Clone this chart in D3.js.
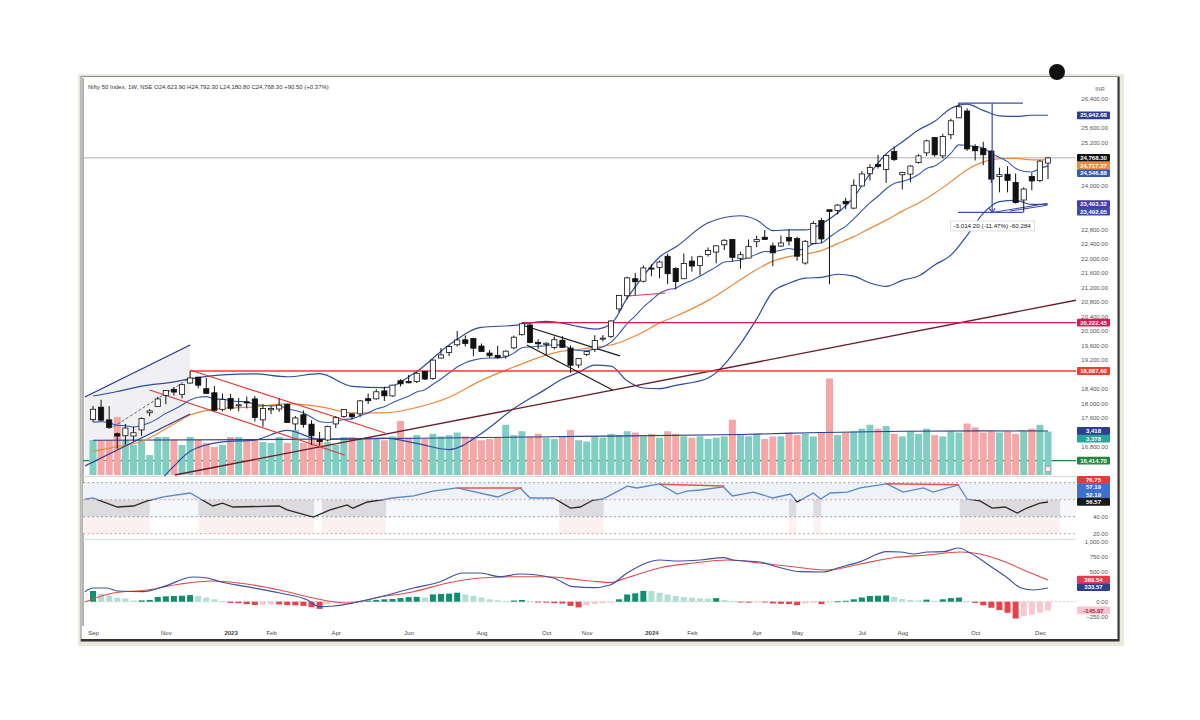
<!DOCTYPE html>
<html><head><meta charset="utf-8">
<script src="https://cdn.jsdelivr.net/npm/d3@7/dist/d3.min.js"></script>
<style>
html,body{margin:0;padding:0;background:#fff;}
svg{display:block;font-family:"Liberation Sans","DejaVu Sans",Arial,sans-serif;}
</style></head><body>
<svg id="chart" width="1200" height="720"></svg>
<script>
// ---------------- DATA ----------------
const firstWeek = "2022-09-05", lastWeek = "2024-12-09";
const opens = [17546,17890,17540,17157,17102,17094,17263,17737,17910,18211,
18377,18246,18556,18719,18402,18288,17830,18131,17953,18034,
18118,17541,17818,17840,17966,17428,17680,17422,16993,16984,
17428,17634,17706,17707,18124,18120,18339,18201,18619,18600,
18595,18874,18683,19246,19400,19612,19748,19784,19576,19383,
19320,19298,19526,19890,20156,19679,19622,19539,19737,19521,
19053,19345,19487,19784,19844,20601,20965,21434,21365,21727,
21747,22053,21716,21433,21921,21800,22103,22169,22371,22517,
21997,22004,22455,22579,22339,22336,22570,22542,21867,22405,
23038,23337,23319,23570,23382,23992,24330,24587,24445,24943,
24302,24320,24637,24906,25333,24823,25406,25872,26061,25084,
25024,24956,24251,24315,24087,23605,24253,24140,24624];
const highs = [17925,18096,17919,17188,17428,17348,17607,17838,18176,18362,
18443,18529,18888,18728,18697,18473,18265,18252,18141,18184,
18201,17972,17917,18134,17972,17645,17800,17529,17207,17381,
17639,17842,17707,18089,18267,18389,18458,18508,18662,18777,
18865,18886,19201,19523,19595,19991,19868,19796,19646,19465,
19584,19458,19867,20222,20195,19766,19680,19843,19849,19593,
19234,19451,19875,19876,20291,20970,21492,21593,21801,21834,
21928,22124,21750,22127,22053,22069,22297,22353,22525,22527,
22180,22516,22619,22775,22428,22626,22794,22588,22503,23026,
23110,23338,23490,23667,24174,24401,24592,24854,24861,25078,
24383,24563,24867,25269,25333,25433,25849,26277,26135,25143,
25212,24978,24498,24537,24336,23957,24354,24705,24792];
const lows = [17485,17497,17291,16748,16855,16950,17098,17637,17899,17969,
18209,18133,18535,18410,18255,17775,17775,17796,17774,17853,
17494,17353,17699,17761,17455,17255,17325,16850,16828,16940,
17313,17597,17553,17612,17980,18098,18060,18178,18464,18547,
18556,18647,18646,19230,19301,19562,19563,19296,19412,19253,
19229,19224,19490,19866,19657,19492,19333,19480,19518,18837,
18973,19301,19414,19704,19800,20507,20867,20977,21329,21500,
21448,21285,21137,21429,21629,21530,22045,21860,22224,21906,
21711,22004,22304,22503,21777,22305,22349,21932,21822,22405,
22417,21281,23206,23350,23350,23992,24141,24473,24074,24686,
23894,24099,24607,24819,24801,24753,25286,25872,24966,24694,
24567,24074,23816,23816,23509,23263,23873,24100,24181];
const closes = [17833,17531,17327,17094,17315,17186,17576,17787,18117,18350,
18307,18512,18696,18497,18269,17806,18105,17859,17956,18027,
17604,17854,17856,17944,17466,17594,17413,17100,16945,17360,
17600,17828,17624,18065,18069,18315,18203,18499,18534,18563,
18826,18665,19189,19332,19564,19745,19646,19517,19428,19310,
19265,19435,19820,20192,19674,19638,19654,19751,19542,19047,
19230,19425,19732,19795,20268,20970,21457,21349,21731,21711,
21895,21572,21353,21854,21783,22041,22213,22339,22494,22023,
22097,22327,22514,22519,22147,22420,22476,22055,22466,22957,
22531,23290,23465,23501,24011,24324,24502,24531,24835,24718,
24367,24541,24823,25236,24852,25357,25791,26179,25015,24964,
24854,24181,24304,24148,23533,23907,24131,24678,24768];
const volumes = [2720,2720,2720,4510,2720,2330,2720,1550,2950,2950,
2720,2330,2950,2720,2490,2180,2330,2950,2950,2720,
2720,2560,2490,2950,2490,3500,2490,2870,2720,2560,
2330,2950,2950,2720,2950,2800,2700,3000,4200,2900,
3100,2800,3200,3000,3100,3300,3000,2900,2700,2800,
2900,3900,3100,3400,3000,3200,2900,2800,3000,3500,
2700,2600,3000,2900,3200,3100,3400,3300,3000,3200,
2900,3400,3200,3000,2900,3000,2800,2900,3000,4300,
3100,3000,3200,2800,3000,3000,3300,3100,3200,3000,
3300,7500,3100,3300,3400,3600,3900,3600,3800,3200,
3000,3400,3200,3600,3100,3000,3400,3300,4000,3700,
3300,3400,3300,3400,3200,3400,3600,3900,3378];
const volMAIdx = [0,20,40,60,80,90,100,110,118];
const volMAVal = [2700,2750,2850,3000,3150,3300,3400,3430,3418];

// Bollinger bands (20,2) & basis, read at sample weeks
const bbIdx = [0,3,6,10,12,16,20,24,28,32,36,40,44,48,52,56,58,60,62,64,66,68,70,72,76,80,82,84,86,88,90,92,94,96,98,100,102,104,106,108,110,112,114,116,118];
const bbUpper = [18199,18322,18473,18588,18671,18784,18808,18729,18814,18463,18430,18875,19606,20091,20145,20255,20210,20114,20043,20188,20898,21508,22032,22307,22976,23171,23055,22763,22779,22779,22947,23245,23684,24329,24876,25206,25538,25775,26132,26253,26078,25928,25913,25943,25943];
const bbBasis = [16669,16802,16945,17426,17673,17858,17896,17989,17908,17735,17734,17883,18164,18629,18999,19325,19438,19482,19547,19606,19758,19964,20216,20399,20836,21405,21689,21919,22043,22115,22209,22401,22594,22823,23050,23298,23524,23795,24108,24441,24658,24744,24753,24713,24717];
const bbLower = [15139,15282,15417,16264,16675,16932,16984,17249,17002,17007,17038,16891,16722,17167,17853,18395,18666,18850,19051,19024,18618,18420,18400,18491,18696,19639,20323,21075,21307,21451,21471,21557,21504,21317,21224,21390,21510,21815,22084,22629,23238,23560,23593,23483,23492];
const emaLine = [17479,17488,17459,17393,17379,17344,17386,17459,17579,17719,
17826,17951,18087,18162,18181,18113,18112,18066,18046,18043,
17963,17943,17927,17930,17846,17800,17730,17615,17493,17469,
17493,17554,17567,17658,17733,17839,17905,18013,18108,18191,
18307,18372,18521,18669,18832,18998,19116,19189,19232,19246,
19249,19283,19381,19529,19555,19570,19585,19615,19602,19501,
19452,19447,19499,19553,19683,19917,20197,20407,20648,20841,
21033,21131,21171,21295,21384,21504,21633,21761,21894,21917,
21950,22019,22109,22184,22177,22221,22267,22228,22271,22396,
22421,22579,22740,22879,23085,23310,23527,23710,23915,24061,
24117,24194,24308,24477,24545,24693,24893,25127,25107,25081,
25040,24884,24778,24663,24480,24400,24380,24470,24547];

// RSI (read at sample weeks)
const rsiIdx = [-1,0,3,5,6.7,8.7,12,14.8,16,17.3,23,24,27.2,29.3,31.4,32.1,33.9,35.5,37,39.6,42,45,50,52.8,54,56.9,59,60.2,61.8,63,66,67.2,70,72.2,73.4,75,77.9,79,81.6,84,86.2,87,89,89.9,91.1,93.2,94.8,98.1,100.1,102.6,103.8,106.9,108,109.6,111.1,112.7,114.2,115.4,117,118];
const rsiVal = [60.8,62,51.4,52.6,58.5,63.2,67.9,52.6,56,51.4,52.6,48,39.6,48,53.8,50,57.3,59.6,62,64.4,70,73.8,63.2,73.8,62,62,50.2,51.4,59.6,60.8,76,73.8,78.5,66.7,70,71.4,75,64.4,69,62,66.7,57.3,67.9,60.8,67.9,69,73.8,78.5,69,73.8,69,77.3,60.8,58.5,50.2,51.4,44.4,50.2,56,57.3];
const rsiShadeRanges = [[-1.5,7],[13,27.3],[28.3,36.2],[57.6,63.1],[86,86.9],[89,90],[107.1,119.5]];
const rsiDivergences = [[45,73.8,53,73.8],[70,78.2,78,76.2],[98,78.7,107,77.6]];
const rsiLevels = [80,60,40,20];

// MACD
const macdIdx = [-1,0,1.7,3,6.2,8.7,12.4,14.1,15.7,19,23.1,26.5,28,29.7,32.1,35.5,39.6,42.9,45.7,47.8,50.3,52.8,56.9,59.3,61.8,63.9,66,70.1,72.2,75,77.9,79.1,82.4,84.5,87.4,90.2,92,94.8,98.1,99.8,101.4,103.1,105.1,106.9,108.4,111.2,113,114.6,116.2,118];
const macdVal = [167,228,228,178,167,250,412,395,333,250,145,28,-83,-72,-22,83,228,333,478,478,417,462,395,250,233,278,478,695,678,695,733,695,662,583,500,495,562,667,833,828,795,828,833,895,812,562,395,233,195,228];
const signalIdx = [-1,2.5,6.7,10.8,14.8,19,23.1,27.2,31.4,35.5,39.6,43.8,47.8,51.9,56.1,60.2,61.8,63.9,66,70.1,74.2,78.4,82.4,86.5,90.7,94.8,98.9,103.1,107.2,109.6,112.1,115.5,118];
const signalVal = [-5,145,195,295,345,295,195,62,-22,78,167,312,395,417,417,362,340,320,400,567,645,695,645,583,528,628,733,778,828,795,695,500,362];
const histVal = [178,133,94,67,56,20,22,30,78,90,
95,100,110,95,70,40,10,-20,-25,-40,
-55,-50,-45,-45,-55,-60,-70,-90,-120,-40,
-25,-15,-5,5,20,30,40,45,60,75,
80,70,122,130,135,150,120,95,70,40,
25,10,20,28,5,-5,-15,-25,-30,-70,
-95,-60,-40,-25,-15,40,120,140,180,178,
150,120,95,78,67,55,50,60,30,10,
-10,-15,-5,-10,-30,-35,-40,-55,-30,-20,
-40,-10,5,15,40,70,95,100,105,80,
45,30,20,35,15,40,60,70,5,-20,
-60,-100,-140,-185,-280,-240,-215,-185,-146];

// Axis ticks
const priceTicks = [16800,17200,17600,18000,18400,18800,19200,19600,20000,20400,20800,21200,21600,22000,22400,22800,23200,23600,24000,24400,24800,25200,25600,26000,26400];
const macdTicks = [-250,0,250,500,750,1000];
const monthTickDates = ["2022-09-05","2022-11-07","2023-01-02","2023-02-06","2023-04-03","2023-06-05","2023-08-07","2023-10-02","2023-11-06","2024-01-01","2024-02-05","2024-04-01","2024-05-06","2024-07-01","2024-08-05","2024-10-07","2024-12-02"];
const monthTickLabels = ["Sep","Nov","2023","Feb","Apr","Jun","Aug","Oct","Nov","2024","Feb","Apr","May","Jul","Aug","Oct","Dec"];

// Drawings (week index, price)
const trendLines = [
  {pts:[[-1,18171],[12,19606]], color:"#283593", w:1.3},
  {pts:[[-1,16268],[12,17702]], color:"#283593", w:1.3},
  {pts:[[12,18916],[36.1,17178]], color:"#e53935", w:1.2},
  {pts:[[7,18364],[31.1,16571]], color:"#e53935", w:1.2},
  {pts:[[53,20157],[65.1,19305]], color:"#1a1a1a", w:1.2},
  {pts:[[53.6,19606],[64.2,18364]], color:"#1a1a1a", w:1.2},
  {pts:[[66.1,20957],[70.7,21040]], color:"#e53935", w:1.2},
  {pts:[[111.2,23263],[117.9,23511]], color:"#3949ab", w:1},
  {pts:[[113.3,23300],[117.9,23460]], color:"#3949ab", w:1}
];
const channelFill = [[-1,18171],[12,19606],[12,17702],[-1,16268]];
const longTrend = [[10.1,16020],[118,20690]];
const horizontalLevels = [
  {price:18887.60, from:12, color:"#ef3b36"},
  {price:20222.45, from:53, color:"#d81b50"}
];
const dashedPath = [[2.5,17344],[12,18700]];
const lastPrice = 24768.30, greenLevel = 16414.70;
const measure = {top:26277.35, bottom:23263.15, from:106.9, to:114.9, at:111.1, label:"-3,014.20 (-11.47%) -60,284"};

const priceTags = [
  {v:25942.68, t:"25,942.68", bg:"#2e3f8f", fg:"#fff"},
  {v:24768.30, t:"24,768.30", bg:"#111", fg:"#fff"},
  {v:24717.37, t:"24,717.37", bg:"#f08a3c", fg:"#fff"},
  {v:24546.88, t:"24,546.88", bg:"#3458b5", fg:"#fff"},
  {v:23493.32, t:"23,493.32", bg:"#4a3aa8", fg:"#fff"},
  {v:23492.05, t:"23,492.05", bg:"#3f4bb0", fg:"#fff"},
  {v:20222.45, t:"20,222.45", bg:"#d81b50", fg:"#fff"},
  {v:18887.60, t:"18,887.60", bg:"#ef3b36", fg:"#fff"},
  {v:16414.70, t:"16,414.70", bg:"#1f8a3c", fg:"#fff"}
];
const volTags = [
  {v:3418, t:"3,418", bg:"#2e3f8f", fg:"#fff"},
  {v:3378, t:"3,378", bg:"#26a69a", fg:"#fff"}
];
const rsiTags = [
  {v:76.75, t:"76.75", bg:"#e53935", fg:"#fff"},
  {v:57.19, t:"57.19", bg:"#3d6fd0", fg:"#fff"},
  {v:52.19, t:"52.19", bg:"#3d6fd0", fg:"#fff"},
  {v:56.57, t:"56.57", bg:"#1a1a1a", fg:"#fff"}
];
const macdTags = [
  {v:369.54, t:"369.54", bg:"#e53950", fg:"#fff"},
  {v:333.57, t:"333.57", bg:"#2e3f8f", fg:"#fff"},
  {v:-145.97, t:"-145.97", bg:"#f7c5cf", fg:"#b0203a"}
];
const headerText = "Nifty 50 Index, 1W, NSE  O24,623.90 H24,792.30 L24,180.80 C24,768.30 +90.50 (+0.37%)";

// ---------------- RENDER ----------------
const svg = d3.select("#chart");
const parse = d3.timeParse("%Y-%m-%d");
const weeks = d3.timeMonday.range(parse(firstWeek), d3.timeDay.offset(parse(lastWeek), 1));
const xTime = d3.scaleTime().domain([weeks[0], weeks[weeks.length-1]]).range([93, 1048]);
const X = i => xTime(new Date(weeks[0].getTime() + i*7*864e5));
const PL = 83, PR = 1076;
const yP = d3.scaleLinear().domain([16800, 25600]).range([446.7, 127.7]);
const yV = d3.scaleLinear().domain([0, 3418]).range([475, 431]);
const yR = d3.scaleLinear().domain([20, 80]).range([533.7, 482.7]);
const yM = d3.scaleLinear().domain([-250, 1000]).range([616.7, 541.7]);

// frame
svg.append("rect").attr("x",78).attr("y",74).attr("width",1046).attr("height",572).attr("fill","#ebe8de");
svg.append("rect").attr("x",81).attr("y",76.5).attr("width",1038).attr("height",565).attr("fill","#fff").attr("stroke","#8a8a8a").attr("stroke-width",1);
svg.append("line").attr("x1",1118.5).attr("x2",1118.5).attr("y1",77).attr("y2",641).attr("stroke","#333").attr("stroke-width",2);
svg.append("line").attr("x1",81).attr("x2",1119).attr("y1",640).attr("y2",640).attr("stroke","#333").attr("stroke-width",2);
svg.append("line").attr("x1",PL).attr("x2",PL).attr("y1",78).attr("y2",626).attr("stroke","#666").attr("stroke-width",1);
svg.append("circle").attr("cx",1057).attr("cy",72).attr("r",8).attr("fill","#111");

const defs = svg.append("defs");
function clip(id,x,y,w,h){defs.append("clipPath").attr("id",id).append("rect").attr("x",x).attr("y",y).attr("width",w).attr("height",h);}
clip("cMain",PL,78,PR-PL,398);
clip("cRsi",PL,477,PR-PL,62);
clip("cRsiHi",PL,477,PR-PL,yR(60)-477);
clip("cRsiLo",PL,yR(60),PR-PL,540-yR(60));
clip("cMacd",PL,540,PR-PL,86);

// pane separators
[476.5, 539.5].forEach(y=>svg.append("line").attr("x1",PL).attr("x2",PR).attr("y1",y).attr("y2",y).attr("stroke","#dadada"));

const main = svg.append("g").attr("clip-path","url(#cMain)");
main.append("line").attr("x1",PL).attr("x2",PR).attr("y1",yP(lastPrice)).attr("y2",yP(lastPrice)).attr("stroke","#b0b0b0").attr("stroke-width",1);
main.append("line").attr("x1",PL).attr("x2",PR).attr("y1",yP(greenLevel)).attr("y2",yP(greenLevel)).attr("stroke","#1f8a3c").attr("stroke-width",1.4);

// channel fill
main.append("path").attr("d", d3.line().x(d=>X(d[0])).y(d=>yP(d[1]))(channelFill)+"Z").attr("fill","rgba(110,110,140,0.10)");

// volume
main.selectAll("rect.vol").data(volumes).join("rect").attr("class","vol")
  .attr("x",(d,i)=>X(i)-3.5).attr("width",7)
  .attr("y",d=>yV(d)).attr("height",d=>475-yV(d))
  .attr("fill",(d,i)=>closes[i]>=opens[i]?"#80cec2":"#f5a6a6");
main.append("path").datum(volMAIdx.map((d,k)=>[d,volMAVal[k]]))
  .attr("d",d3.line().x(d=>X(d[0])).y(d=>yV(d[1])).curve(d3.curveMonotoneX))
  .attr("fill","none").attr("stroke","#2e3f8f").attr("stroke-width",1.1);

// indicators
const lineP = d3.line().x(d=>X(d[0])).y(d=>yP(d[1])).curve(d3.curveMonotoneX);
function drawSeries(idx, vals, color, w){
  main.append("path").datum(idx.map((d,k)=>[d,vals[k]])).attr("d",lineP)
   .attr("fill","none").attr("stroke",color).attr("stroke-width",w);
}
drawSeries(bbIdx,bbUpper,"#2f4b9e",1.2);
drawSeries(bbIdx,bbLower,"#2f4b9e",1.2);
drawSeries(bbIdx,bbBasis,"#f0883a",1.2);
drawSeries(emaLine.map((d,i)=>i),emaLine,"#3458b5",1.1);

{
  const [a,b] = longTrend;
  const slope = (yP(b[1])-yP(a[1]))/(X(b[0])-X(a[0]));
  main.append("line").attr("x1",X(a[0])).attr("y1",yP(a[1])).attr("x2",PR).attr("y2",yP(a[1])+slope*(PR-X(a[0])))
    .attr("stroke","#6b1d2a").attr("stroke-width",1.4);
}
horizontalLevels.forEach(h=>main.append("line").attr("x1",X(h.from)).attr("x2",PR).attr("y1",yP(h.price)).attr("y2",yP(h.price)).attr("stroke",h.color).attr("stroke-width",1.3));
trendLines.forEach(t=>main.append("path").attr("d",d3.line().x(d=>X(d[0])).y(d=>yP(d[1]))(t.pts)).attr("stroke",t.color).attr("stroke-width",t.w).attr("fill","none"));
main.append("path").attr("d",d3.line().x(d=>X(d[0])).y(d=>yP(d[1]))(dashedPath)).attr("stroke","#555").attr("stroke-width",0.9).attr("stroke-dasharray","3,2").attr("fill","none");

// candles
const cg = main.append("g");
weeks.forEach((w,i)=>{
  const x = X(i), up = closes[i]>=opens[i];
  cg.append("line").attr("x1",x).attr("x2",x).attr("y1",yP(highs[i])).attr("y2",yP(lows[i])).attr("stroke","#111").attr("stroke-width",1);
  const top = yP(Math.max(opens[i],closes[i])), bot = yP(Math.min(opens[i],closes[i]));
  cg.append("rect").attr("x",x-2.6).attr("width",5.2).attr("y",top).attr("height",Math.max(1,bot-top))
    .attr("fill",up?"#fff":"#111").attr("stroke","#111").attr("stroke-width",0.8);
});

// measurement tool
{
  const mc="#3a4fa8";
  main.append("line").attr("x1",X(measure.from)).attr("x2",X(measure.to)).attr("y1",yP(measure.top)).attr("y2",yP(measure.top)).attr("stroke",mc).attr("stroke-width",1.2);
  main.append("line").attr("x1",X(measure.from)).attr("x2",X(measure.to)).attr("y1",yP(measure.bottom)).attr("y2",yP(measure.bottom)).attr("stroke",mc).attr("stroke-width",1.2);
  const xm = X(measure.at);
  main.append("line").attr("x1",xm).attr("x2",xm).attr("y1",yP(measure.top)).attr("y2",yP(measure.bottom)).attr("stroke",mc).attr("stroke-width",1.2);
  const yb = yP(measure.bottom);
  main.append("path").attr("d",`M${xm-3},${yb-4}L${xm},${yb}L${xm+3},${yb-4}`).attr("stroke",mc).attr("fill","none").attr("stroke-width",1.2);
  const lg = svg.append("g");
  const tx = svg.append("text").attr("x",xm).attr("y",yb+16).attr("text-anchor","middle").attr("font-size",6.2).attr("fill","#222").text(measure.label);
  const bb = tx.node().getBBox();
  lg.append("rect").attr("x",bb.x-3).attr("y",bb.y-1.5).attr("width",bb.width+6).attr("height",bb.height+3).attr("fill","#fff").attr("stroke","#ddd");
}
svg.append("circle").attr("cx",X(118)).attr("cy",469).attr("r",2.8).attr("fill","#fff").attr("stroke","#d87090").attr("stroke-width",0.8);

// ---------- RSI pane ----------
const rsi = svg.append("g").attr("clip-path","url(#cRsi)");
rsi.append("rect").attr("x",PL).attr("width",PR-PL).attr("y",yR(80)).attr("height",yR(60)-yR(80)).attr("fill","#edf1f8");
rsi.append("rect").attr("x",PL).attr("width",PR-PL).attr("y",yR(60)).attr("height",yR(40)-yR(60)).attr("fill","#f5f7fb");
rsiShadeRanges.forEach(r=>{
  rsi.append("rect").attr("x",X(r[0])).attr("width",X(r[1])-X(r[0])).attr("y",yR(60)).attr("height",yR(40)-yR(60)).attr("fill","#dcdcdf");
  rsi.append("rect").attr("x",X(r[0])).attr("width",X(r[1])-X(r[0])).attr("y",yR(40)).attr("height",yR(20)-yR(40)).attr("fill","#fcf0f0");
});
rsiLevels.forEach((l,k)=>rsi.append("line").attr("x1",PL).attr("x2",PR).attr("y1",yR(l)).attr("y2",yR(l))
  .attr("stroke",k%2? "#d99aa4":"#8f9aae").attr("stroke-dasharray","2,2.5").attr("stroke-width",1));
const rsiPts = rsiIdx.map((d,k)=>[d,rsiVal[k]]);
const rsiLine = d3.line().x(d=>X(d[0])).y(d=>yR(d[1]));
rsi.append("path").datum(rsiPts).attr("d",rsiLine).attr("clip-path","url(#cRsiHi)").attr("fill","none").attr("stroke","#5a86cc").attr("stroke-width",1.3);
rsi.append("path").datum(rsiPts).attr("d",rsiLine).attr("clip-path","url(#cRsiLo)").attr("fill","none").attr("stroke","#2a2a2a").attr("stroke-width",1.3);
rsiDivergences.forEach(d=>rsi.append("line").attr("x1",X(d[0])).attr("x2",X(d[2])).attr("y1",yR(d[1])).attr("y2",yR(d[3])).attr("stroke","#e2574c").attr("stroke-width",1.6));

// ---------- MACD pane ----------
const mac = svg.append("g").attr("clip-path","url(#cMacd)");
mac.append("line").attr("x1",PL).attr("x2",PR).attr("y1",yM(0)).attr("y2",yM(0)).attr("stroke","#c8c8c8").attr("stroke-dasharray","2,2");
mac.selectAll("rect.h").data(histVal).join("rect").attr("class","h")
  .attr("x",(d,i)=>X(i)-3).attr("width",6)
  .attr("y",d=>d>=0?yM(d):yM(0)).attr("height",d=>Math.max(0.8,Math.abs(yM(d)-yM(0))))
  .attr("fill",(d,i)=>{const p=i>0?histVal[i-1]:d; return d>=0?(d>=p?"#0f8f6e":"#b3ded6"):(d<=p?"#ea3f4c":"#f8c8ce");});
mac.append("path").datum(signalIdx.map((d,k)=>[d,signalVal[k]])).attr("d",d3.line().x(d=>X(d[0])).y(d=>yM(d[1])).curve(d3.curveMonotoneX))
  .attr("fill","none").attr("stroke","#e24a4a").attr("stroke-width",1.1);
mac.append("path").datum(macdIdx.map((d,k)=>[d,macdVal[k]])).attr("d",d3.line().x(d=>X(d[0])).y(d=>yM(d[1])).curve(d3.curveMonotoneX))
  .attr("fill","none").attr("stroke","#3b52a5").attr("stroke-width",1.2);

// ---------- tags & axes ----------
function placeTags(list, scale, minGap){
  const arr = list.map(d=>({...d, y:scale(d.v)})).sort((a,b)=>a.y-b.y);
  for(let k=1;k<arr.length;k++) if(arr[k].y-arr[k-1].y<minGap) arr[k].y=arr[k-1].y+minGap;
  return arr;
}
function drawTags(arr){
  arr.forEach(d=>{
    svg.append("rect").attr("x",1077).attr("y",d.y-3.9).attr("width",33).attr("height",7.8).attr("rx",1).attr("fill",d.bg);
    svg.append("text").attr("x",1093.5).attr("y",d.y+2.2).attr("text-anchor","middle").attr("font-size",6).attr("font-weight","bold").attr("fill",d.fg).text(d.t);
  });
}
const pTags = placeTags(priceTags.concat(volTags.map(d=>({...d,v:yP.invert(yV(d.v))}))), yP, 7.6);
const rTags = rsiTags.map((d,k)=>({...d, y:yR(rsiTags[0].v)-5.5+k*7.3}));
const mTags = placeTags(macdTags, yM, 7.6);

function axisLabels(ticks, scale, fmt, tags){
  const g = svg.append("g").attr("transform","translate(1108,0)");
  const ax = d3.axisRight(scale).tickValues(ticks.filter(t=>{const y=scale(t); return y>84 && !tags.some(tg=>Math.abs(tg.y-y)<6);})).tickFormat(fmt).tickSize(0);
  g.call(ax);
  g.select(".domain").remove();
  g.selectAll("text").attr("x",0).attr("text-anchor","end").attr("font-size",6).attr("fill","#555").attr("font-family","Liberation Sans, Arial, sans-serif");
}
const f2 = d3.format(",.2f");
axisLabels(priceTicks, yP, f2, pTags);
axisLabels(rsiLevels, yR, f2, rTags);
axisLabels(macdTicks, yM, f2, mTags);
drawTags(pTags); drawTags(rTags); drawTags(mTags);
svg.append("text").attr("x",1100).attr("y",91).attr("text-anchor","middle").attr("font-size",5.5).attr("fill","#666").text("INR");

// x axis
const xg = svg.append("g").attr("transform","translate(0,628)");
xg.call(d3.axisBottom(xTime).tickValues(monthTickDates.map(parse)).tickFormat((d,k)=>monthTickLabels[k]).tickSize(0));
xg.select(".domain").remove();
xg.selectAll("text").attr("font-size",6).attr("fill","#444").attr("font-family","Liberation Sans, Arial, sans-serif")
  .attr("font-weight",(d,k)=>/^\d{4}$/.test(monthTickLabels[k])?"bold":"normal");

// header
svg.append("text").attr("x",88).attr("y",89).attr("font-size",6).attr("fill","#333").text(headerText);
</script></body></html>
